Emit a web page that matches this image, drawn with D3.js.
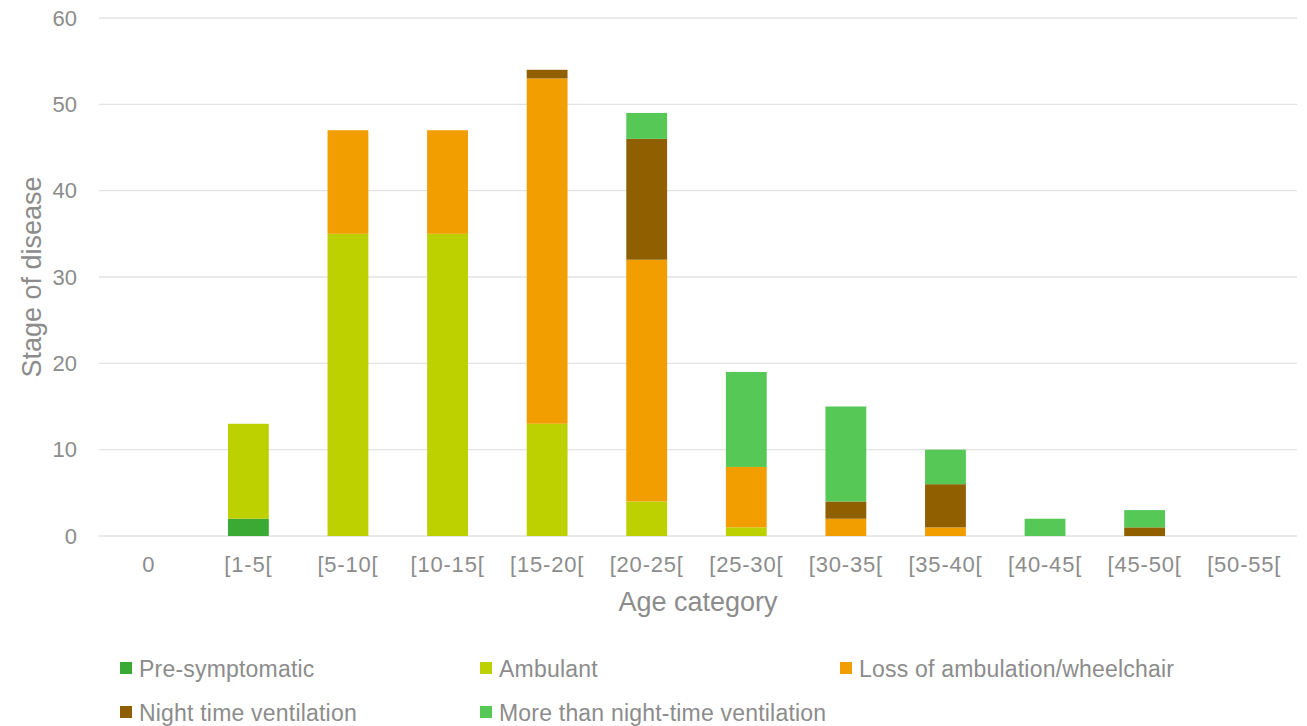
<!DOCTYPE html>
<html>
<head>
<meta charset="utf-8">
<script src="https://cdn.jsdelivr.net/npm/d3@7"></script>
<style>
  html, body { margin: 0; padding: 0; background: #fff; }
  svg { display: block; font-family: "Liberation Sans", Arial, sans-serif; }
</style>
</head>
<body>
<svg id="chart" width="1307" height="726"></svg>
<script>
// Age bands on the x axis
const categories = ["0", "[1-5[", "[5-10[", "[10-15[", "[15-20[", "[20-25[", "[25-30[", "[30-35[", "[35-40[", "[40-45[", "[45-50[", "[50-55["];

// Number of patients per disease stage in each age band
const preSymptomatic   = [0, 2, 0, 0, 0, 0, 0, 0, 0, 0, 0, 0];
const ambulant         = [0, 11, 35, 35, 13, 4, 1, 0, 0, 0, 0, 0];
const lossOfAmbulation = [0, 0, 12, 12, 40, 28, 7, 2, 1, 0, 0, 0];
const nightVentilation = [0, 0, 0, 0, 1, 14, 0, 2, 5, 0, 1, 0];
const moreThanNight    = [0, 0, 0, 0, 0, 3, 11, 11, 4, 2, 2, 0];

const seriesNames = ["Pre-symptomatic", "Ambulant", "Loss of ambulation/wheelchair", "Night time ventilation", "More than night-time ventilation"];
const seriesValues = [preSymptomatic, ambulant, lossOfAmbulation, nightVentilation, moreThanNight];
const seriesColors = ["#3aaa35", "#bdd000", "#f29e00", "#8f5f00", "#55c855"];

const yTicks = [0, 10, 20, 30, 40, 50, 60];

const svg = d3.select("#chart");
const plotLeft = 99, plotRight = 1297, plotTop = 18, plotBottom = 536;

const x = d3.scaleBand()
  .domain(categories)
  .range([plotLeft, 1294])
  .paddingInner(0.59)
  .paddingOuter(0.295);

const y = d3.scaleLinear()
  .domain([0, 60])
  .range([plotBottom, plotTop]);

const grey = "#8c8c8c";

// Horizontal gridlines
svg.append("g")
  .selectAll("line")
  .data(yTicks)
  .join("line")
  .attr("x1", plotLeft)
  .attr("x2", plotRight)
  .attr("y1", d => y(d))
  .attr("y2", d => y(d))
  .attr("stroke", "#e3e3e3")
  .attr("stroke-width", 1.3);

// Stack the stage counts per age band
const rows = categories.map((c, i) => {
  const r = { cat: c };
  seriesNames.forEach((n, k) => { r[n] = seriesValues[k][i]; });
  return r;
});
const stacked = d3.stack().keys(seriesNames)(rows);

svg.append("g")
  .selectAll("g")
  .data(stacked)
  .join("g")
  .attr("fill", (d, i) => seriesColors[i])
  .selectAll("rect")
  .data(d => d.filter(p => p[1] - p[0] > 0))
  .join("rect")
  .attr("x", d => x(d.data.cat))
  .attr("width", x.bandwidth())
  .attr("y", d => y(d[1]))
  .attr("height", d => y(d[0]) - y(d[1]));

// Y axis tick labels
const yAxis = svg.append("g")
  .attr("transform", `translate(${plotLeft},0)`)
  .call(d3.axisLeft(y).tickValues(yTicks).tickSize(0).tickPadding(22));
yAxis.select(".domain").remove();
yAxis.selectAll("text")
  .attr("fill", grey)
  .style("font-size", "22px")
  .style("font-family", "'Liberation Sans', Arial, sans-serif");

// X axis tick labels
const xAxis = svg.append("g")
  .attr("transform", `translate(0,${plotBottom})`)
  .call(d3.axisBottom(x).tickSize(0).tickPadding(20));
xAxis.select(".domain").remove();
xAxis.selectAll("text")
  .attr("fill", grey)
  .style("font-size", "22px")
  .style("letter-spacing", "0.8px")
  .style("font-family", "'Liberation Sans', Arial, sans-serif");

// Axis titles
svg.append("text")
  .attr("x", (plotLeft + plotRight) / 2)
  .attr("y", 611)
  .attr("text-anchor", "middle")
  .attr("fill", grey)
  .style("font-size", "27px")
  .text("Age category");

svg.append("text")
  .attr("transform", `translate(41,${(plotBottom + plotTop) / 2}) rotate(-90)`)
  .attr("text-anchor", "middle")
  .attr("fill", grey)
  .style("font-size", "27px")
  .text("Stage of disease");

// Legend
const legendPos = [
  { x: 120, y: 677 }, { x: 480, y: 677 }, { x: 840, y: 677 },
  { x: 120, y: 721 }, { x: 480, y: 721 }
];
const legend = svg.append("g")
  .selectAll("g")
  .data(seriesNames)
  .join("g")
  .attr("transform", (d, i) => `translate(${legendPos[i].x},${legendPos[i].y})`);
legend.append("rect")
  .attr("x", 0)
  .attr("y", -15)
  .attr("width", 12)
  .attr("height", 12)
  .attr("fill", (d, i) => seriesColors[i]);
legend.append("text")
  .attr("x", 19)
  .attr("y", 0)
  .attr("fill", grey)
  .style("font-size", "23px")
  .style("letter-spacing", "0.2px")
  .text(d => d);
</script>
</body>
</html>
